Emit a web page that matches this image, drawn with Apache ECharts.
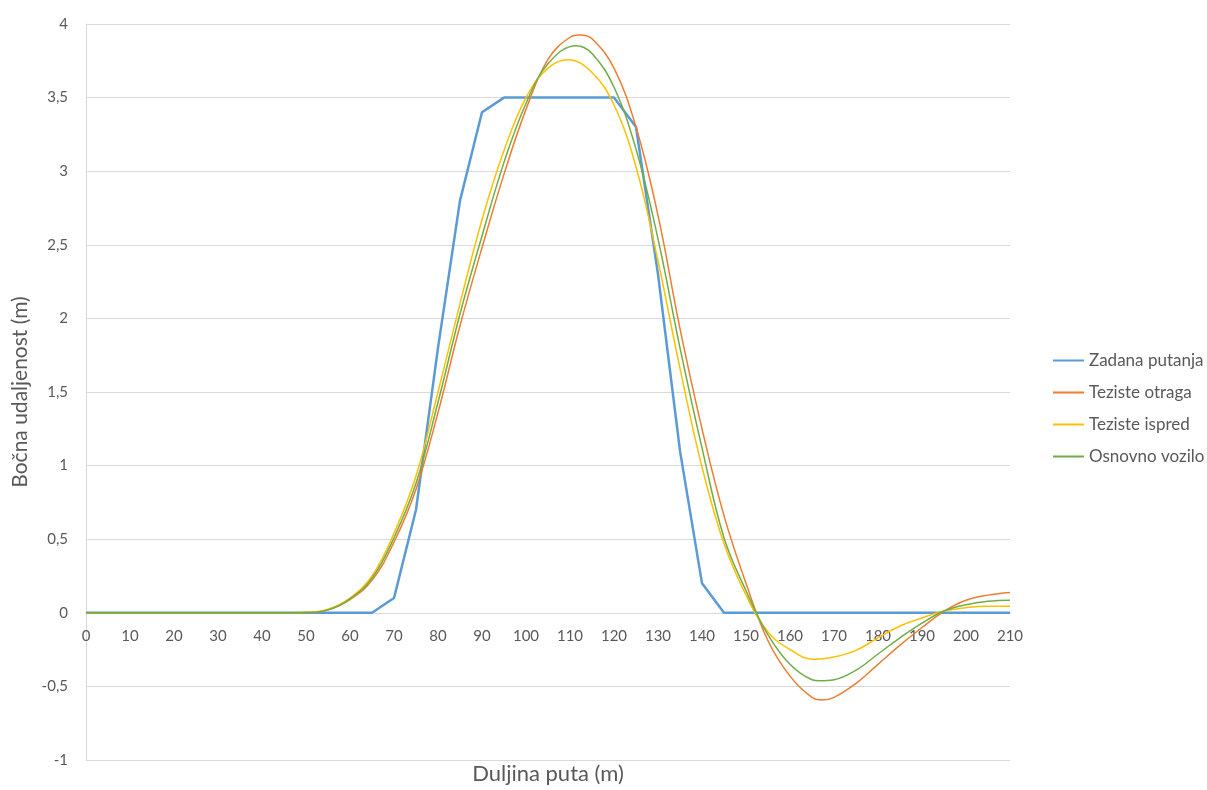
<!DOCTYPE html>
<html>
<head>
<meta charset="utf-8">
<script src="https://cdn.jsdelivr.net/npm/echarts@6/dist/echarts.min.js"></script>
<style>
html,body{margin:0;padding:0;background:#fff;}
#chart{width:1207px;height:790px;}
</style>
</head>
<body>
<div id="chart"></div>
<script>
const distances = [0,5,10,15,20,25,30,35,40,45,50,55,60,65,70,75,80,85,90,95,100,105,110,115,120,125,130,135,140,145,150,155,160,165,170,175,180,185,190,195,200,205,210];
const zadanaPutanja = [0,0,0,0,0,0,0,0,0,0,0,0,0,0,0.1,0.7,1.8,2.8,3.4,3.5,3.5,3.5,3.5,3.5,3.5,3.3,2.3,1.1,0.2,0,0,0,0,0,0,0,0,0,0,0,0,0,0];
const tezisteOtraga = [0,0,0,0,0,0,0,0,0,0,0.002,0.02,0.09,0.22,0.48,0.84,1.36,1.95,2.48,2.98,3.42,3.76,3.91,3.90,3.70,3.30,2.70,1.93,1.25,0.66,0.20,-0.19,-0.43,-0.575,-0.575,-0.48,-0.35,-0.22,-0.10,0.01,0.085,0.12,0.138];
const tezisteIspred = [0,0,0,0,0,0,0,0,0,0,0.003,0.025,0.10,0.25,0.54,0.93,1.50,2.10,2.67,3.14,3.50,3.70,3.755,3.67,3.45,3.03,2.39,1.66,0.99,0.47,0.12,-0.13,-0.25,-0.313,-0.30,-0.255,-0.17,-0.09,-0.035,0.012,0.035,0.045,0.045];
const osnovnoVozilo = [0,0,0,0,0,0,0,0,0,0,0.002,0.02,0.095,0.235,0.51,0.88,1.43,2.03,2.56,3.06,3.46,3.73,3.85,3.80,3.57,3.15,2.54,1.80,1.12,0.51,0.15,-0.15,-0.35,-0.455,-0.455,-0.39,-0.28,-0.17,-0.07,0.012,0.055,0.078,0.085];
// extremum points: [distance, value]
const otragaExtrema = [[112.3,3.925],[167.4,-0.593]];
const ispredExtrema = [[109.6,3.757],[165.3,-0.316]];
const osnovnoExtrema = [[111.4,3.853],[166.6,-0.462]];
const seriesNames = ['Zadana putanja','Teziste otraga','Teziste ispred','Osnovno vozilo'];
const xTicks = {min:0, max:210, step:10};
const yTicks = {min:-1, max:4, step:0.5};

const pair = arr => distances.map((d,i)=>[d, arr[i]]);
const withExtrema = (arr, ext) => pair(arr).filter(p => !ext.some(e => Math.abs(e[0]-p[0]) < 1.5)).concat(ext).sort((a,b)=>a[0]-b[0]);
const txt = '#595959';
const font = 'Lato, "Open Sans", sans-serif';

const W = 1207, H = 790;
const grid = {left:86, right:197, top:24, bottom:30};
const plotH = H - grid.top - grid.bottom;
const zeroFromBottom = plotH * (0 - yTicks.min) / (yTicks.max - yTicks.min);
const plotCenterX = grid.left + (W - grid.left - grid.right) / 2;
const plotCenterY = grid.top + plotH / 2;

const chart = echarts.init(document.getElementById('chart'), null, {renderer:'canvas'});
chart.setOption({
  backgroundColor:'#ffffff',
  animation:false,
  grid:Object.assign({containLabel:false}, grid),
  legend:{
    orient:'vertical', left:1048, top:347, itemGap:15, itemWidth:31, itemHeight:2, icon:'rect',
    textStyle:{color:txt, fontSize:17, fontFamily:font, padding:[0,0,0,0]},
    data:seriesNames
  },
  xAxis:{
    type:'value', min:xTicks.min, max:xTicks.max, interval:xTicks.step,
    position:'bottom', offset:-zeroFromBottom,
    axisLine:{show:true, onZero:false, lineStyle:{color:'#d9d9d9', width:1}},
    axisTick:{show:false},
    splitLine:{show:false},
    axisLabel:{color:txt, fontSize:15, fontFamily:font, margin:16}
  },
  yAxis:{
    type:'value', min:yTicks.min, max:yTicks.max, interval:yTicks.step,
    axisLine:{show:true, onZero:false, lineStyle:{color:'#d9d9d9', width:1}},
    axisTick:{show:false},
    splitLine:{show:true, lineStyle:{color:'#d9d9d9', width:1}},
    axisLabel:{color:txt, fontSize:15, fontFamily:font, margin:18,
      formatter: v => String(v).replace('.', ',')}
  },
  graphic:[
    {type:'text', x:plotCenterX, y:763, style:{text:'Duljina puta (m)', fill:txt, fontSize:22, fontFamily:font, align:'center', verticalAlign:'top'}},
    {type:'text', rotation:Math.PI/2, x:10, y:plotCenterY, style:{text:'Bočna udaljenost (m)', fill:txt, fontSize:21, fontFamily:font, align:'center', verticalAlign:'top'}}
  ],
  series:[
    {name:seriesNames[0], type:'line', data:pair(zadanaPutanja), symbol:'none', smooth:false, z:2,
      lineStyle:{color:'#5B9BD5', width:2.5}, itemStyle:{color:'#5B9BD5'}},
    {name:seriesNames[1], type:'line', data:withExtrema(tezisteOtraga, otragaExtrema), symbol:'none', smooth:0.4, z:3,
      lineStyle:{color:'#ED7D31', width:1.5}, itemStyle:{color:'#ED7D31'}},
    {name:seriesNames[2], type:'line', data:withExtrema(tezisteIspred, ispredExtrema), symbol:'none', smooth:0.4, z:4,
      lineStyle:{color:'#FFC000', width:1.5}, itemStyle:{color:'#FFC000'}},
    {name:seriesNames[3], type:'line', data:withExtrema(osnovnoVozilo, osnovnoExtrema), symbol:'none', smooth:0.4, z:5,
      lineStyle:{color:'#70AD47', width:1.5}, itemStyle:{color:'#70AD47'}}
  ]
});
</script>
</body>
</html>
